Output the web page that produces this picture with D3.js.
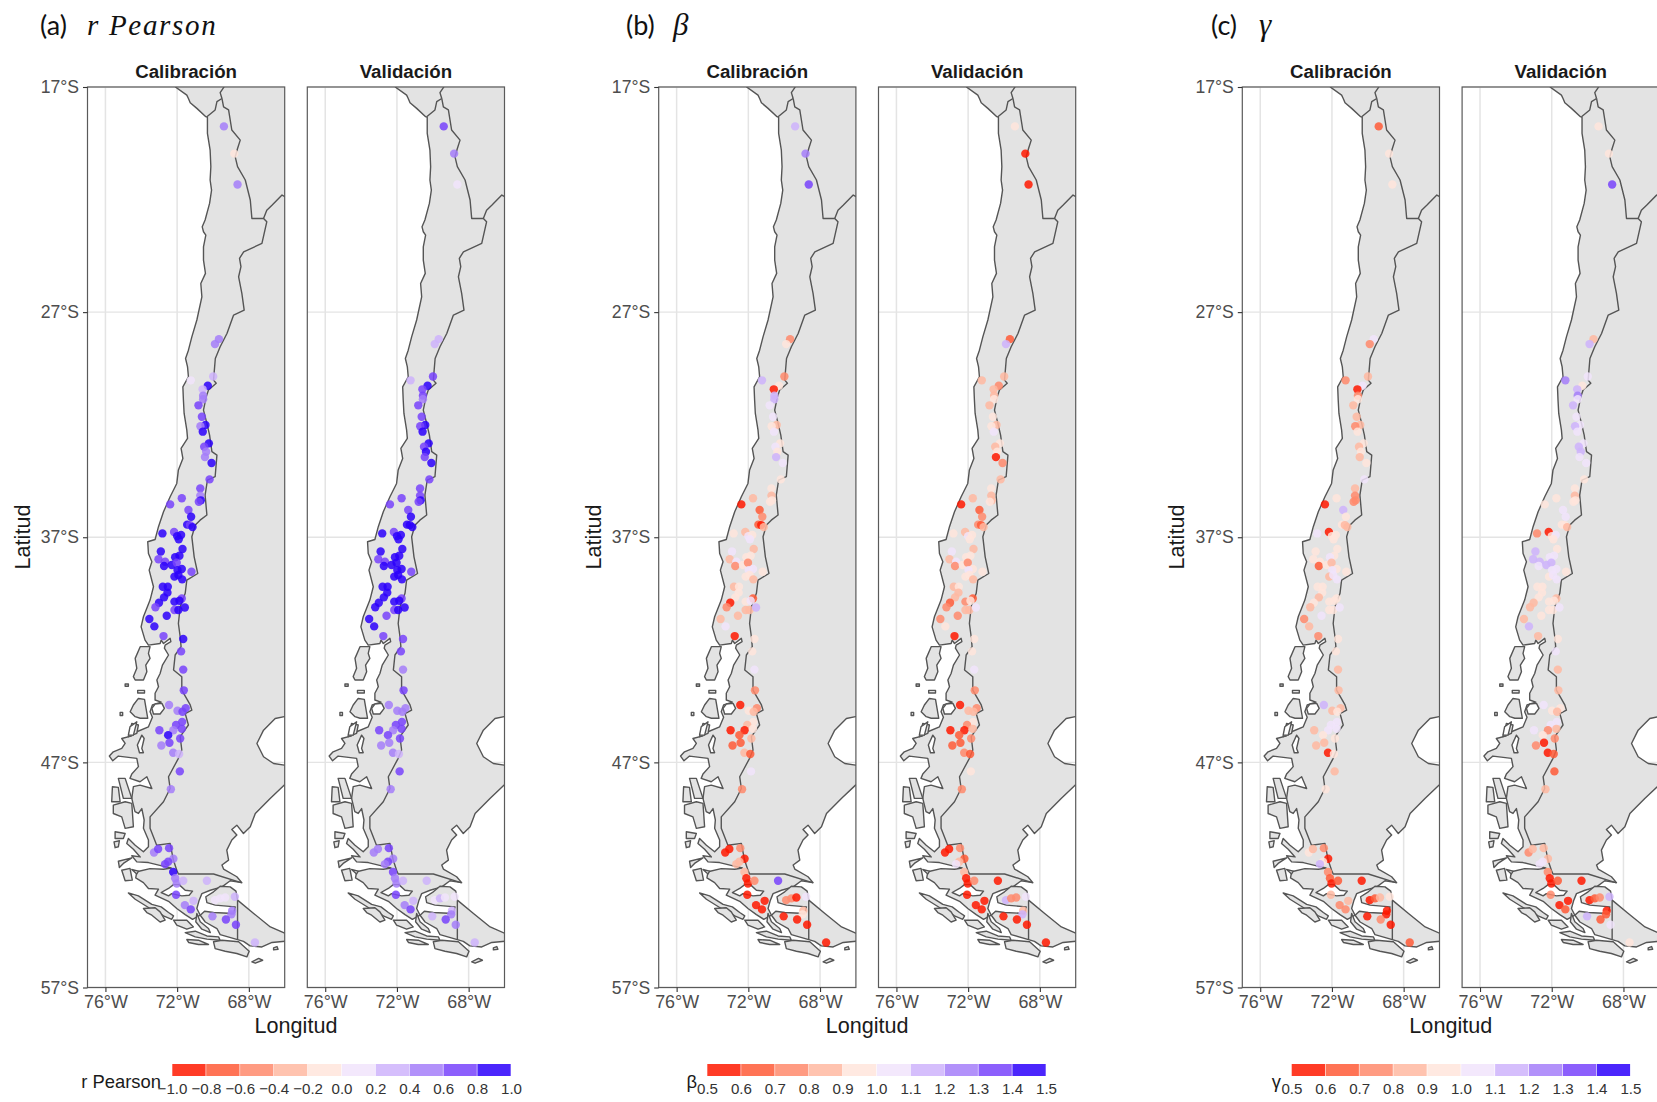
<!DOCTYPE html>
<html><head><meta charset="utf-8">
<script src="https://cdn.jsdelivr.net/npm/d3@7"></script>
<style>
html,body{margin:0;padding:0;background:#fff;overflow:hidden}
svg{display:block;font-family:"Liberation Sans",Arial,sans-serif}
</style></head><body><svg id="c" width="1657" height="1102"></svg>
<script>
const lonTicks=[-76,-72,-68];
const latTicks=[-17,-27,-37,-47,-57];
const facetNames=["Calibración","Validación"];
const panelLetters=["(a)","(b)","(c)"];
const panelSymbols=["r Pearson","β","γ"];
const legendTitles=["r Pearson","β","γ"];
const rBreaks=[-1,-0.8,-0.6,-0.4,-0.2,0,0.2,0.4,0.6,0.8,1];
const ratioBreaks=[0.5,0.6,0.7,0.8,0.9,1,1.1,1.2,1.3,1.4,1.5];
const palette=["#ff1900","#ff5a37","#ff896c","#ffb8a1","#ffe5dc","#f1e4fc","#ceb3fc","#a47ef9","#7843fc","#2b00fc"];

const stations=[[-69.39,-18.75],[-68.81,-19.96],[-68.63,-21.33],[-69.67,-28.2],[-69.89,-28.42],[-71.24,-30.03],[-69.99,-29.86],[-70.29,-30.27],[-70.58,-30.43],[-70.55,-30.71],[-70.55,-30.87],[-70.81,-31.14],[-70.62,-31.65],[-70.42,-32.01],[-70.7,-32.07],[-70.57,-32.31],[-70.23,-32.83],[-70.49,-32.98],[-70.38,-33.2],[-70.45,-33.44],[-70.08,-33.7],[-70.19,-34.43],[-70.71,-34.83],[-70.71,-35.15],[-70.68,-35.36],[-70.79,-35.42],[-71.74,-35.27],[-72.39,-35.54],[-71.37,-35.79],[-71.22,-36.09],[-71.44,-36.44],[-71.28,-36.46],[-71.14,-36.55],[-72.82,-36.83],[-72.17,-36.77],[-72,-36.95],[-71.78,-36.9],[-71.91,-37.09],[-71.7,-37.52],[-72.91,-37.63],[-71.87,-37.82],[-72.11,-37.89],[-73.04,-37.98],[-72.67,-38.09],[-72.73,-38.28],[-72.3,-38.23],[-72.02,-38.13],[-71.74,-38.41],[-71.98,-38.46],[-72.15,-38.75],[-71.93,-38.68],[-71.72,-38.87],[-71.2,-38.53],[-72.8,-39.2],[-72.52,-39.2],[-72.54,-39.46],[-72.73,-39.67],[-71.74,-39.72],[-73.01,-39.91],[-72.15,-39.86],[-71.87,-39.82],[-73.21,-40.11],[-72.15,-40.23],[-71.93,-40.23],[-71.57,-40.12],[-72.58,-40.49],[-73.55,-40.63],[-73.27,-40.96],[-72.76,-41.39],[-71.66,-41.52],[-71.78,-42.07],[-71.66,-42.88],[-71.63,-43.8],[-72.45,-44.45],[-71.98,-44.71],[-71.52,-44.59],[-71.7,-44.75],[-71.72,-45.2],[-72.06,-45.34],[-72.99,-45.57],[-72.21,-45.57],[-71.74,-45.51],[-72.5,-45.79],[-71.83,-45.94],[-72.43,-46.13],[-72.88,-46.25],[-72.22,-46.57],[-71.89,-46.63],[-71.85,-47.4],[-72.35,-48.19],[-73.29,-51],[-73.06,-50.85],[-72.45,-50.81],[-72.21,-51.28],[-72.5,-51.41],[-72.67,-51.52],[-72.22,-51.87],[-72.11,-52.15],[-72.02,-52.38],[-71.66,-52.26],[-70.34,-52.26],[-72.06,-52.88],[-71.57,-53.34],[-71.09,-53.15],[-71.24,-53.53],[-70.03,-53.84],[-69.89,-53.12],[-69.6,-53.04],[-69.32,-53],[-68.78,-52.97],[-68.93,-53.59],[-68.97,-53.75],[-69.28,-53.98],[-68.72,-54.21],[-67.66,-55]];

const rCal=[.5,-.1,.5,.5,.5,.1,.3,.9,.3,.5,.5,.7,.7,.9,.5,.9,.9,.7,.5,.5,.9,.7,.7,.5,.9,.7,.7,.7,.7,.9,.9,.7,.9,.9,.7,.9,.9,.9,.9,.9,.9,.9,.7,.7,.9,.9,.7,.9,.9,.9,.9,.9,.7,.9,.9,.9,.9,.7,.9,.9,.9,.7,.7,.9,.9,.9,.9,.9,.7,.9,.7,.7,.7,.5,.5,.7,.7,.7,.7,.7,.5,.7,.9,.7,.7,.5,.5,.3,.7,.5,.5,.7,.7,.5,.7,.7,.9,.5,.5,.3,.3,.7,.5,.3,.7,.5,.1,.1,.1,.3,.5,.5,.7,.7,.3];
const rVal=[.7,.5,.1,.3,.3,.3,.7,.9,.7,.7,.5,.7,.7,.9,.7,.9,.9,.7,.9,.7,.9,.7,.7,.7,.9,.7,.7,.7,.7,.9,.9,.9,.9,.9,.7,.9,.9,.9,.9,.9,.9,.9,.7,.7,.9,.9,.9,.9,.9,.9,.9,.9,.7,.9,.9,.9,.9,.7,.9,.9,.9,.9,.7,.9,.9,.7,.9,.9,.7,.7,.7,.5,.7,.5,.5,.5,.5,.7,.7,.7,.5,.7,.7,.7,.5,.5,.5,.3,.7,.5,.5,.5,.7,.5,.7,.5,.7,.5,.5,.3,.3,.7,.5,.3,.7,.3,.1,.3,.1,.1,.3,.5,.7,.5,.3];
const betaCal=[1.15,1.25,1.35,.75,.95,1.15,.75,.95,.55,1.15,1.15,1.05,1.05,.85,.95,1.05,.95,1.05,.95,1.15,1.05,.95,.95,.85,.95,.95,.85,.55,.65,.75,.65,.55,.85,.95,.85,1.05,.95,1.05,.85,1.05,.95,.95,.85,1.05,.75,.95,.75,1.05,1.05,.95,.95,.85,.95,.85,.95,.95,.95,.65,.55,.95,1.05,.75,.85,.85,1.15,.85,.85,1.05,.55,.95,.95,1.05,.75,.55,.95,.75,.85,.95,.85,.55,.55,.95,.65,.85,.65,.65,.85,.65,1.05,.75,.55,.55,.75,.55,.85,.85,.85,.55,.55,.75,1.35,.55,.55,.55,.55,.55,.75,.75,.55,1.05,.85,.95,.55,.55,.55];
const betaVal=[.95,.55,.55,.65,1.15,.85,.85,.75,.85,.85,.95,.85,.95,.85,.95,1.05,.95,.85,.95,.55,.75,.85,.95,.85,.85,.95,.85,.55,.65,.75,.75,.65,.85,.95,.85,1.05,.95,.95,.85,1.05,.95,.95,.85,1.05,.75,.95,.75,.95,1.05,.95,.95,.85,.95,.85,.95,.85,.85,.65,.65,.75,.95,.75,.85,.85,1.05,.75,.75,.95,.55,.95,.95,1.05,.75,.55,.85,.75,.85,.95,.75,.55,.55,.85,.65,.75,.65,.65,.75,.65,.95,.75,.55,.55,.75,.65,.85,1.05,.85,.55,.55,.75,.55,.55,.55,.55,.55,.55,1.15,.75,.75,1.05,.85,1.15,.55,.55,.55];
const gammaCal=[.65,.95,.95,1.05,.75,.75,.85,1.05,.55,.75,.95,.85,.85,.85,.75,.95,.95,.85,.95,.85,.95,1.05,.85,.75,.75,.75,.95,.55,1.15,.95,.95,.85,.85,1.05,.55,.95,.95,.95,.95,.95,.95,1.05,.95,.95,.65,.95,.85,.95,1.05,.85,1.05,1.05,.95,.95,.95,.95,.85,.95,.95,.95,.95,.85,.95,.95,1.05,1.05,.75,.85,.75,.95,.95,.85,.85,1.15,.85,.85,.95,1.05,1.05,.85,1.05,1.05,.95,.95,.85,.85,.55,.95,.85,.95,.95,.85,.75,.55,.95,1.15,.75,.65,.55,.65,.55,.85,.75,.85,.75,.55,.55,.65,.85,.95,.55,.55,.75,.55,.65];
const gammaVal=[.95,.95,1.35,.85,1.15,1.25,1.05,.95,1.15,1.25,1.05,1.15,1.05,1.05,1.15,1.05,1.05,1.15,1.15,1.05,1.05,.95,.95,.85,.95,.95,.95,.95,1.05,1.05,.95,.95,.85,.75,.55,.95,1.05,.95,.95,1.15,1.05,1.05,1.15,1.15,1.05,1.15,1.15,1.05,1.05,.95,1.05,1.05,.95,.95,.95,.95,.95,.85,.85,.95,.95,.85,.95,.95,1.05,.95,.85,1.15,.85,.95,1.05,.85,.85,1.05,.95,.95,.85,1.05,1.05,1.05,.75,.85,.95,.75,.55,.75,.55,.65,.65,.85,.75,.85,.85,.85,1.05,1.05,.75,.55,.55,.65,.55,.75,.55,.55,.65,1.15,.55,.65,.75,1.15,.55,.65,.65,1.05,.95];

const mainland=[[-72.3,-16.5],[-72.3,-16.8],[-72.06,-17.02],[-71.46,-17.36],[-71.37,-17.51],[-71.27,-17.7],[-70.9,-17.95],[-70.4,-18.32],[-70.31,-18.35],[-70.31,-19.06],[-70.16,-19.8],[-70.12,-20.54],[-70.16,-21.13],[-70.08,-21.58],[-70.19,-22.17],[-70.44,-22.91],[-70.6,-23.21],[-70.53,-23.43],[-70.4,-23.58],[-70.53,-24.1],[-70.53,-24.69],[-70.42,-25.28],[-70.68,-25.73],[-70.62,-26.32],[-70.9,-27.35],[-71.18,-28.1],[-71.37,-28.69],[-71.53,-29.06],[-71.42,-29.43],[-71.37,-29.87],[-71.68,-30.32],[-71.65,-30.9],[-71.61,-31.5],[-71.46,-32.24],[-71.42,-32.61],[-71.78,-33.05],[-71.68,-33.5],[-71.93,-34.01],[-72.02,-34.61],[-72.39,-35.2],[-72.76,-35.87],[-73.04,-36.53],[-73.23,-37.1],[-73.64,-37.2],[-73.6,-37.72],[-73.41,-38.09],[-73.56,-38.46],[-73.32,-39.2],[-73.51,-39.79],[-73.88,-40.53],[-74.01,-40.98],[-73.79,-41.57],[-73.6,-41.79],[-72.95,-41.72],[-72.89,-41.57],[-72.76,-41.72],[-72.39,-41.49],[-72.35,-41.64],[-72.67,-41.79],[-72.71,-41.93],[-72.48,-42.23],[-72.82,-42.68],[-72.95,-43.05],[-73.13,-43.34],[-73.04,-43.64],[-73.23,-43.93],[-73.23,-44.23],[-72.89,-44.32],[-73.38,-44.45],[-73.51,-44.75],[-73.38,-45],[-73.6,-45.42],[-74.25,-45.64],[-74.53,-45.82],[-75.09,-45.94],[-74.9,-46.16],[-75.09,-46.38],[-75.56,-46.53],[-75.78,-46.72],[-75.59,-46.93],[-75.28,-46.72],[-74.25,-46.82],[-74.16,-47.19],[-74.53,-47.52],[-74.63,-47.71],[-74.07,-47.86],[-73.69,-47.64],[-73.41,-48.16],[-74.07,-48.01],[-74.44,-48.08],[-74.53,-48.6],[-74.35,-49.19],[-74.16,-49.27],[-73.97,-49.05],[-73.84,-49.56],[-73.88,-49.93],[-73.6,-50.45],[-73.6,-50.75],[-73.88,-50.97],[-74.34,-50.68],[-74.72,-50.38],[-74.81,-50.6],[-74.44,-50.86],[-74.06,-51.2],[-74.53,-51.15],[-74.25,-51.42],[-73.6,-51.45],[-72.85,-51.6],[-72.33,-51.69],[-72.76,-51.75],[-73.51,-51.72],[-74.25,-51.86],[-74.31,-52.13],[-73.88,-52.34],[-73.6,-52.6],[-73.04,-52.63],[-73.23,-52.9],[-72.48,-53.17],[-72.02,-53.49],[-71.55,-53.76],[-71.14,-53.97],[-70.71,-53.79],[-70.9,-53.49],[-70.77,-53.12],[-70.62,-52.83],[-70.15,-52.68],[-69.5,-52.53],[-69.04,-52.26],[-68.39,-52.34],[-68.67,-52.08],[-69.41,-51.74],[-69.5,-51.56],[-69.13,-51.34],[-69.23,-50.9],[-68.95,-50.45],[-68.67,-50.23],[-68.95,-49.98],[-68.67,-49.79],[-68.3,-50.16],[-67.92,-49.86],[-67.64,-49.27],[-66.81,-48.6],[-66.02,-48.01],[-65.5,-47.8],[-65.5,-47.1],[-66.02,-47.12],[-66.62,-47.05],[-67.18,-46.75],[-67.55,-46.16],[-67.18,-45.57],[-66.53,-45.05],[-66.02,-44.97],[-65.5,-44.9],[-65.5,-16.5]];

const fuego=[[-70.4,-52.97],[-69.97,-52.75],[-69.6,-52.5],[-69.04,-52.53],[-68.72,-52.72],[-68.63,-53.12],[-67.73,-53.71],[-66.8,-54.31],[-65.97,-54.6],[-65.41,-54.68],[-65.41,-54.9],[-66.71,-55],[-67.27,-55.2],[-67.93,-55.15],[-68.3,-54.95],[-68.63,-54.87],[-69.6,-54.65],[-69.78,-54.38],[-70.43,-54.09],[-70.71,-53.79],[-70.47,-53.61],[-69.97,-53.67],[-68.85,-53.71],[-68.76,-53.42],[-69.87,-53.34],[-70.34,-53.23]];
const chiloe=[[-74.06,-41.86],[-73.51,-41.86],[-73.6,-42.16],[-73.51,-42.38],[-73.75,-42.68],[-73.69,-42.97],[-73.88,-43.34],[-74.34,-43.34],[-74.44,-43.19],[-74.25,-42.82],[-74.34,-42.38]];
const islands=[chiloe,fuego,
[[-74.62,-44.75],[-74.44,-44.45],[-74.16,-44.16],[-73.82,-44.2],[-73.64,-45.04],[-74.06,-45.04],[-74.34,-44.97]],
[[-74.72,-45.86],[-74.53,-45.27],[-74.16,-45.34],[-74.25,-45.71]],
[[-75.61,-48.08],[-75.28,-48.11],[-75.18,-48.75],[-75.65,-48.75]],
[[-75.28,-47.71],[-74.9,-47.71],[-74.53,-48.6],[-75,-48.6]],
[[-75.56,-48.9],[-74.9,-48.75],[-74.53,-48.82],[-74.44,-49.86],[-74.9,-49.93],[-75.09,-49.42],[-75.56,-49.27]],
[[-75.46,-50.08],[-74.9,-50.16],[-75,-50.38],[-75.46,-50.38]],
[[-75.52,-50.53],[-75.22,-50.48],[-75.28,-50.75],[-75.46,-50.79]],
[[-75.28,-51.39],[-74.53,-51.24],[-75,-51.49],[-75.22,-51.67]],
[[-75.09,-51.79],[-74.63,-51.71],[-74.5,-52.23],[-74.9,-52.26]],
[[-74.53,-51.76],[-74.16,-51.83],[-74.25,-51.96]],
[[-74.72,-52.8],[-74.16,-52.93],[-73.41,-53.31],[-72.89,-53.42],[-72.48,-53.67],[-72.2,-53.82],[-72.3,-53.97],[-72.76,-53.82],[-73.04,-53.67],[-73.51,-53.49],[-74.34,-53.08]],
[[-73.88,-53.49],[-73.23,-53.46],[-72.95,-53.64],[-72.67,-54.01],[-72.95,-54.09],[-73.41,-53.79],[-73.69,-53.67]],
[[-72.2,-54.01],[-71.46,-54.01],[-71.09,-54.31],[-71.46,-54.41],[-72.02,-54.23]],
[[-70.9,-53.71],[-70.71,-54.08],[-70.25,-54.38],[-70.15,-54.56],[-70.62,-54.41],[-70.96,-54.08]],
[[-71.55,-54.56],[-70.99,-54.5],[-70.34,-54.71],[-69.69,-54.75],[-69.6,-54.9],[-70.34,-54.85],[-70.99,-54.75]],
[[-71.46,-54.87],[-70.81,-54.9],[-70.25,-55.09],[-70.81,-55.09],[-71.36,-55]],
[[-69.97,-54.97],[-69.5,-54.9],[-68.57,-54.97],[-67.98,-55.39],[-68.11,-55.64],[-68.67,-55.49],[-69.32,-55.39],[-69.88,-55.27]],
[[-66.62,-55.24],[-66.43,-55.18],[-66.37,-55.3],[-66.62,-55.33]],
[[-67.83,-55.86],[-67.45,-55.71],[-67.23,-55.79],[-67.64,-55.92]],
[[-74.9,-43.52],[-74.72,-43.52],[-74.72,-43.62],[-74.9,-43.62]],
[[-74.2,-43.8],[-73.82,-43.8],[-73.82,-43.92],[-74.2,-43.92]],
[[-75.18,-44.78],[-75.04,-44.78],[-75.04,-44.92],[-75.18,-44.92]]];
const inlets=[[[-73.41,-44.6],[-73.23,-44.41],[-72.85,-44.38],[-72.71,-44.6],[-72.95,-44.85],[-73.32,-44.85]],
[[-73.97,-45.79],[-73.84,-45.94],[-73.97,-46.38],[-73.88,-46.57],[-74.1,-46.57],[-74.22,-46.23]],
[[-74.63,-45.42],[-74.25,-45.2],[-74.44,-45.79],[-74.72,-45.79]],
[[-72.89,-52.78],[-72.48,-52.6],[-72.2,-52.43],[-71.89,-52.43],[-71.55,-52.68],[-71.14,-52.72],[-71.33,-52.9],[-71.74,-52.93],[-72.3,-52.83],[-72.48,-52.93]]];
const borderPeruBolivia=[[-69.3,-16.8],[-69.4,-17.02],[-69.6,-17.25],[-69.5,-17.51]];
const borderPeruChile=[[-69.5,-17.51],[-69.78,-17.65],[-69.88,-18.02],[-70.34,-18.32]];
const borderBoliviaArgentina=[[-67.18,-22.84],[-67,-22.47],[-66.71,-22.25],[-66.15,-21.8],[-65.99,-21.87],[-65.7,-21.87]];
const borderChileEast=[[-69.5,-17.51],[-69.41,-17.88],[-69.13,-18.02],[-68.95,-18.91],[-68.48,-19.36],[-68.63,-19.73],[-68.76,-20.1],[-68.63,-20.54],[-68.2,-21.13],[-67.92,-22.02],[-67.83,-22.84],[-67.18,-22.84],[-67,-22.99],[-67.27,-23.95],[-68.29,-24.32],[-68.52,-24.61],[-68.44,-24.98],[-68.57,-25.43],[-68.39,-26.17],[-68.26,-26.91],[-68.85,-27.13],[-69.22,-27.95],[-69.6,-28.54],[-69.87,-29.06],[-69.97,-30.02],[-69.82,-30.16],[-70.25,-30.46],[-70.38,-30.76],[-70.53,-31.35],[-70.34,-31.94],[-70.19,-32.46],[-70.06,-33.2],[-69.78,-33.35],[-69.88,-34.31],[-70.31,-34.46],[-70.44,-35.13],[-70.34,-36.01],[-70.72,-36.24],[-70.99,-36.46],[-71.18,-36.98],[-71.05,-37.87],[-70.85,-38.61],[-71.46,-38.9],[-71.55,-39.49],[-71.83,-40.09],[-71.93,-40.83],[-71.83,-41.42],[-71.78,-41.86],[-72.11,-42.23],[-72.2,-42.9],[-71.74,-43.2],[-71.74,-43.79],[-71.27,-44.45],[-71.18,-44.68],[-71.55,-44.83],[-71.37,-45.34],[-71.83,-45.86],[-71.74,-46.45],[-71.93,-46.82],[-72.48,-47.64],[-72.39,-48.16],[-72.76,-48.75],[-73.51,-49.42],[-73.51,-49.93],[-73.14,-50.68],[-72.39,-50.6],[-72.21,-51.34],[-72.02,-51.79],[-71.93,-51.96],[-69.97,-51.96],[-68.39,-52.35]];
const borderFuego=[[-68.63,-53.12],[-68.63,-54.87]];
const borders=[borderPeruBolivia,borderPeruChile,borderBoliviaArgentina,borderChileEast,borderFuego];

const groups=[
 {left:87.5,legendX:172,titleX:40,symX:87,series:[rCal,rVal],breaks:rBreaks,fmt:d3.format(".1f"),titleEnd:161},
 {left:658.7,legendX:707,titleX:626,symX:673,series:[betaCal,betaVal],breaks:ratioBreaks,fmt:d3.format(".1f"),titleEnd:697},
 {left:1242.3,legendX:1291.4,titleX:1211,symX:1259,series:[gammaCal,gammaVal],breaks:ratioBreaks,fmt:d3.format(".1f"),titleEnd:1281}
];
const panelW=197.2,panelTop=87,panelBottom=987.5,gap=22.6,legendW=339,legendTop=1064,legendH=12;
const svg=d3.select("#c");
const defs=svg.append("defs");
const y=d3.scaleLinear().domain([-57,-17]).range([panelBottom,panelTop]);
const lonFmt=d=>Math.abs(d)+"°W", latFmt=d=>Math.abs(d)+"°S";
const poly=(x)=>d3.line().x(d=>x(d[0])).y(d=>y(d[1]));

groups.forEach((g,gi)=>{
 const color=d3.scaleThreshold().domain(g.breaks.slice(1,-1)).range(palette);
 const top=svg.append("g");
 top.append("text").attr("x",g.titleX).attr("y",35).attr("font-family","Lato").attr("font-size",27).attr("fill","#111").text(panelLetters[gi]);
 top.append("text").attr("x",g.symX).attr("y",35).attr("font-family","Liberation Serif").attr("font-style","italic").attr("font-size",gi?31:29).attr("letter-spacing",gi?0:1.7).attr("fill","#111").text(panelSymbols[gi]);
 facetNames.forEach((name,fi)=>{
  const x0=g.left+fi*(panelW+gap);
  const x=d3.scaleLinear().domain([-77,-66]).range([x0,x0+panelW]);
  const id=`clip${gi}${fi}`;
  defs.append("clipPath").attr("id",id).append("rect").attr("x",x0).attr("y",panelTop).attr("width",panelW).attr("height",panelBottom-panelTop);
  const p=svg.append("g");
  p.append("g").selectAll("line").data(lonTicks).join("line").attr("x1",d=>x(d)).attr("x2",d=>x(d)).attr("y1",panelTop).attr("y2",panelBottom).attr("stroke","#e4e4e4").attr("stroke-width",1.5);
  p.append("g").selectAll("line").data(latTicks).join("line").attr("x1",x0).attr("x2",x0+panelW).attr("y1",d=>y(d)).attr("y2",d=>y(d)).attr("stroke","#e4e4e4").attr("stroke-width",1.3);
  const m=p.append("g").attr("clip-path",`url(#${id})`);
  const line=poly(x);
  m.append("path").attr("d",line(mainland)+"Z").attr("fill","#e3e3e3").attr("stroke","#555").attr("stroke-width",1.4).attr("stroke-linejoin","round");
  m.append("g").selectAll("path").data(islands).join("path").attr("d",d=>line(d)+"Z").attr("fill","#e3e3e3").attr("stroke","#555").attr("stroke-width",1.4).attr("stroke-linejoin","round");
  m.append("g").selectAll("path").data(inlets).join("path").attr("d",d=>line(d)+"Z").attr("fill","#fff").attr("stroke","#555").attr("stroke-width",1.4).attr("stroke-linejoin","round");
  m.append("g").selectAll("path").data(borders).join("path").attr("d",d=>line(d)).attr("fill","none").attr("stroke","#555").attr("stroke-width",1.4).attr("stroke-linejoin","round");
  m.append("g").selectAll("circle").data(stations).join("circle").attr("cx",d=>x(d[0])).attr("cy",d=>y(d[1])).attr("r",4.2).attr("fill",(d,i)=>color(g.series[fi][i])).attr("fill-opacity",.85);
  p.append("rect").attr("x",x0).attr("y",panelTop).attr("width",panelW).attr("height",panelBottom-panelTop).attr("fill","none").attr("stroke","#5a5a5a").attr("stroke-width",1.2);
  p.append("text").attr("x",x0+panelW/2).attr("y",78).attr("text-anchor","middle").attr("font-weight","bold").attr("font-size",18.7).attr("fill","#1a1a1a").text(name);
  const ax=d3.axisBottom(x).tickValues(lonTicks).tickFormat(lonFmt).tickSize(4.5).tickPadding(3);
  const ag=p.append("g").attr("transform",`translate(0,${panelBottom})`).call(ax);
  ag.select(".domain").remove();
  ag.selectAll("line").attr("stroke","#333").attr("stroke-width",1.1);
  ag.selectAll("text").attr("font-size",17.9).attr("font-family","Liberation Sans").attr("fill","#4d4d4d");
  if(fi===0){
   const ay=d3.axisLeft(y).tickValues(latTicks).tickFormat(latFmt).tickSize(4.5).tickPadding(4);
   const yg=p.append("g").attr("transform",`translate(${x0},0)`).call(ay);
   yg.select(".domain").remove();
   yg.selectAll("line").attr("stroke","#333").attr("stroke-width",1.1);
   yg.selectAll("text").attr("font-size",17.6).attr("font-family","Liberation Sans").attr("fill","#4d4d4d");
  }
 });
 svg.append("text").attr("x",g.left+panelW+gap/2).attr("y",1033).attr("text-anchor","middle").attr("font-size",21.6).attr("fill","#1a1a1a").text("Longitud");
 svg.append("text").attr("transform",`translate(${g.left-58},537) rotate(-90)`).attr("text-anchor","middle").attr("font-size",21.6).attr("fill","#1a1a1a").text("Latitud");
 // legend
 const lx=d3.scaleLinear().domain([g.breaks[0],g.breaks[g.breaks.length-1]]).range([g.legendX,g.legendX+legendW]);
 const lg=svg.append("g");
 lg.selectAll("rect").data(palette).join("rect").attr("x",(d,i)=>lx(g.breaks[i])+.3).attr("y",legendTop).attr("width",(d,i)=>lx(g.breaks[i+1])-lx(g.breaks[i])-.6).attr("height",legendH).attr("fill",d=>d).attr("fill-opacity",.85);
 const lax=d3.axisBottom(lx).tickValues(g.breaks).tickFormat(g.fmt).tickSize(0).tickPadding(0);
 const lag=lg.append("g").attr("transform",`translate(0,${legendTop+legendH+7})`).call(lax);
 lag.select(".domain").remove();
 lag.selectAll("text").attr("font-size",15.1).attr("font-family","Liberation Sans").attr("fill","#333");
 svg.append("text").attr("x",g.titleEnd).attr("y",1088).attr("text-anchor","end").attr("font-size",18.4).attr("fill","#1a1a1a").text(legendTitles[gi]);
});
</script></body></html>
